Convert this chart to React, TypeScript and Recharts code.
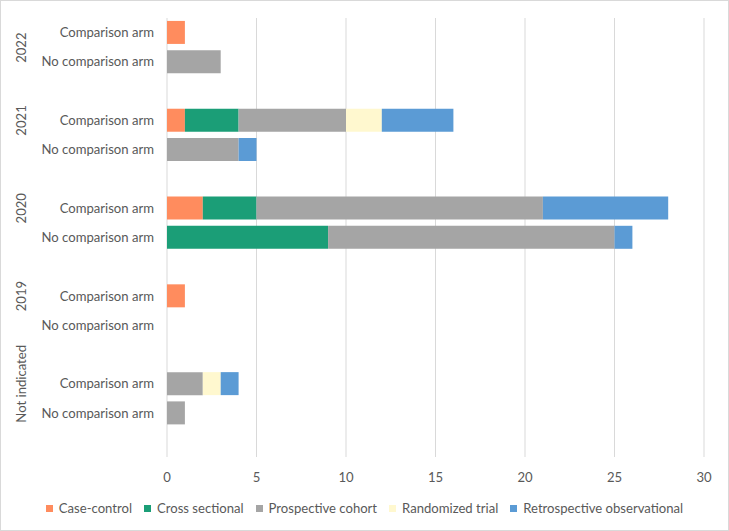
import React from "react";
import { BarChart, Bar, XAxis, YAxis, CartesianGrid, Legend } from "recharts";

const groups = ["2022", "2021", "2020", "2019", "Not indicated"];
const arms = ["Comparison arm", "No comparison arm"];

// rows in order: 2022C, 2022NC, 2021C, 2021NC, 2020C, 2020NC, 2019C, 2019NC, NIC, NINC
const caseControl = [1, 0, 1, 0, 2, 0, 1, 0, 0, 0];
const crossSectional = [0, 0, 3, 0, 3, 9, 0, 0, 0, 0];
const prospectiveCohort = [0, 3, 6, 4, 16, 16, 0, 0, 2, 1];
const randomizedTrial = [0, 0, 2, 0, 0, 0, 0, 0, 1, 0];
const retrospectiveObs = [0, 0, 4, 1, 7, 1, 0, 0, 1, 0];

const xTicks = [0, 5, 10, 15, 20, 25, 30];

const seriesDefs = [
  { key: "cc", name: "Case-control", values: caseControl, color: "#FF8C5E" },
  { key: "cs", name: "Cross sectional", values: crossSectional, color: "#1B9E77" },
  { key: "pc", name: "Prospective cohort", values: prospectiveCohort, color: "#A5A5A5" },
  { key: "rt", name: "Randomized trial", values: randomizedTrial, color: "#FFF8CF" },
  { key: "ro", name: "Retrospective observational", values: retrospectiveObs, color: "#5B9BD5" },
];

type Row = { [k: string]: any };
const data: Row[] = [];
groups.forEach((g, gi) => {
  arms.forEach((a, ai) => {
    const idx = gi * 2 + ai;
    const row: Row = { key: `${g}-${a}`, label: a, group: ai === 0 ? g : "", gi };
    seriesDefs.forEach((s) => {
      row[s.key] = s.values[idx] || null;
    });
    data.push(row);
  });
  data.push({ key: `blank-${g}`, label: "", group: "", gi });
});

const FONT = "Lato, 'Open Sans', sans-serif";
const TEXT = "#595959";
const FS = 13.1;

const YTick = (props: any) => {
  const { x, y, payload } = props;
  const row = data.find((r) => r.key === payload.value);
  if (!row) return null;
  const groupOffset = row.gi === 0 ? 15 : 0;
  return (
    <g>
      {row.label && (
        <text x={x} y={y} dy={4.5} textAnchor="end" fill={TEXT} fontSize={FS} fontFamily={FONT}>
          {row.label}
        </text>
      )}
      {row.group && (
        <text
          x={22}
          y={y + groupOffset}
          textAnchor="middle"
          fill={TEXT}
          fontSize={FS}
          fontFamily={FONT}
          transform={`rotate(-90, 22, ${y + groupOffset})`}
          dy={4.5}
        >
          {row.group}
        </text>
      )}
    </g>
  );
};

const LegendContent = () => (
  <div
    style={{
      display: "flex",
      justifyContent: "center",
      alignItems: "center",
      fontFamily: FONT,
      fontSize: FS,
      color: TEXT,
      gap: 12,
      height: 18,
    }}
  >
    {seriesDefs.map((s) => (
      <div key={s.key} style={{ display: "flex", alignItems: "center" }}>
        <span style={{ display: "inline-block", width: 7, height: 7, background: s.color, marginRight: 6 }} />
        <span>{s.name}</span>
      </div>
    ))}
  </div>
);

export default function App() {
  return (
    <div style={{ position: "absolute", left: 0, top: 0, width: 729, height: 531, background: "#fff" }}>
      <BarChart
        width={729}
        height={531}
        data={data}
        layout="vertical"
        margin={{ top: 18, right: 25, bottom: 26, left: 0 }}
        barCategoryGap="10%"
      >
        <CartesianGrid horizontal={false} stroke="#D9D9D9" strokeWidth={1} />
        <XAxis
          type="number"
          domain={[0, 30]}
          ticks={xTicks}
          axisLine={false}
          tickLine={false}
          tickMargin={10}
          height={30}
          tick={{ fill: TEXT, fontSize: FS, fontFamily: FONT }}
        />
        <YAxis
          type="category"
          dataKey="key"
          width={167}
          axisLine={false}
          tickLine={false}
          tickSize={0}
          tickMargin={13}
          interval={0}
          tick={<YTick />}
        />
        <Legend
          content={<LegendContent />}
          wrapperStyle={{ left: 0, width: 729, top: 499 }}
        />
        {seriesDefs.map((s) => (
          <Bar key={s.key} dataKey={s.key} name={s.name} stackId="a" fill={s.color} isAnimationActive={false} />
        ))}
      </BarChart>
      <div
        style={{
          position: "absolute",
          left: 0,
          top: 0,
          width: 729,
          height: 531,
          boxSizing: "border-box",
          border: "1px solid #D9D9D9",
          pointerEvents: "none",
        }}
      />
    </div>
  );
}
